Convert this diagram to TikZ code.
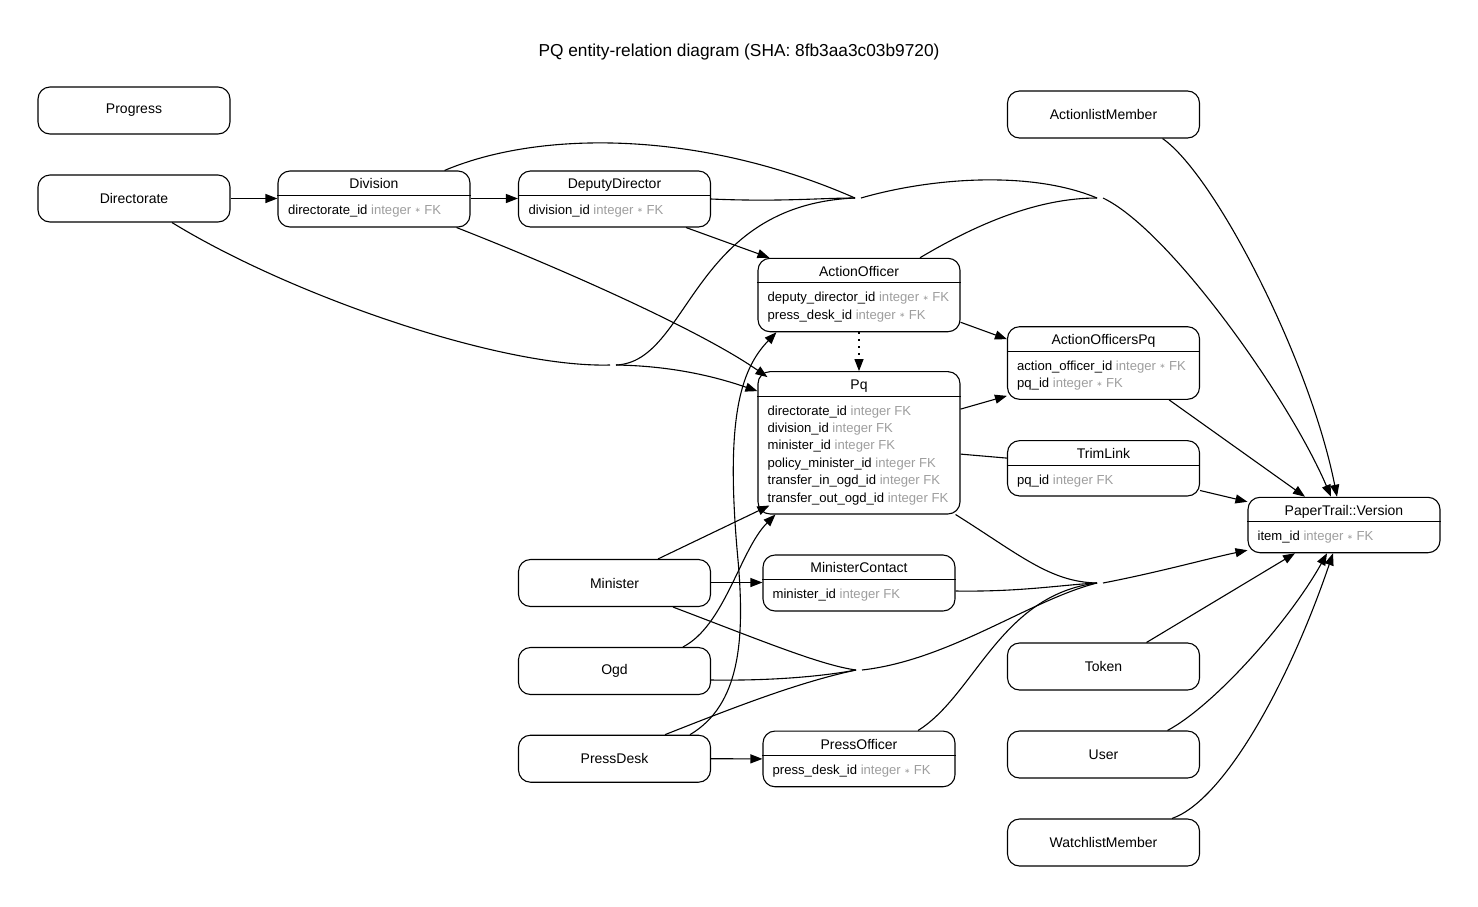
\documentclass[tikz,border=0pt]{standalone}
\usepackage{fontspec}
\setmainfont{Liberation Sans}
\newfontfamily\starfont{DejaVu Sans}
\usepackage{xcolor}
\usepackage{tikz}
\usetikzlibrary{arrows.meta}
\definecolor{typegray}{RGB}{158,158,158}
\newcommand{\notnull}{{\starfont\fontsize{7}{7}\selectfont\raisebox{1.5pt}{∗}}}
\tikzset{entity/.style={draw,line width=1.1pt,rounded corners=12pt,
    minimum width=192pt,minimum height=47pt,inner sep=0pt,
    font=\fontsize{14}{16}\selectfont},
  wide/.style={minimum width=202pt},
  heading/.style={font=\fontsize{14}{16}\selectfont,inner sep=0pt,anchor=base},
  attrs/.style={font=\fontsize{13.1}{17.4}\selectfont,align=left,
    inner sep=0pt,anchor=north west},
  divider/.style={line width=1.1pt},
  link/.style={draw,line width=1.1pt},
  fk/.style={link,-{Triangle[length=12pt,width=9pt]}},
  ownedby/.style={fk,dash pattern=on 2pt off 5pt},
  erdtitle/.style={font=\fontsize{17.3}{20}\selectfont}}

\begin{document}
\begin{tikzpicture}[x=1pt,y=-1pt]
    \path[fill=white] (0,0) rectangle (1478,906);
    \useasboundingbox (0,0) rectangle (1478,906);

    \node[erdtitle] (title) at (739,52) {PQ entity-relation diagram (SHA: 8fb3aa3c03b9720)};

    % left column
    \node[entity] (progress) at (134,110.5) {Progress};
    \node[entity] (directorate) at (134,198.5) {Directorate};

    \node[entity,minimum height=56pt] (division) at (374,199) {};
    \node[heading] (division-name) at ([yshift=-18.5pt]division.north) {Division};
    \draw[divider] ([yshift=-25pt]division.north west) -- ([yshift=-25pt]division.north east);
    \node[attrs] (division-attrs) at ([xshift=10.5pt,yshift=-34.3pt]division.north west)
        {directorate\_id \textcolor{typegray}{integer \notnull\ FK}};

    \node[entity,minimum height=56pt] (deputydirector) at (614.5,199) {};
    \node[heading] (deputydirector-name) at ([yshift=-18.5pt]deputydirector.north) {DeputyDirector};
    \draw[divider] ([yshift=-25pt]deputydirector.north west) -- ([yshift=-25pt]deputydirector.north east);
    \node[attrs] (deputydirector-attrs) at ([xshift=10.5pt,yshift=-34.3pt]deputydirector.north west)
        {division\_id \textcolor{typegray}{integer \notnull\ FK}};

    \node[entity] (minister) at (614.5,583) {Minister};
    \node[entity] (ogd) at (614.5,671) {Ogd};
    \node[entity] (pressdesk) at (614.5,758.7) {PressDesk};

    % middle column
    \node[entity,wide,minimum height=73.4pt] (actionofficer) at (859,295) {};
    \node[heading] (actionofficer-name) at ([yshift=-18.5pt]actionofficer.north) {ActionOfficer};
    \draw[divider] ([yshift=-25pt]actionofficer.north west) -- ([yshift=-25pt]actionofficer.north east);
    \node[attrs] (actionofficer-attrs) at ([xshift=10pt,yshift=-34.3pt]actionofficer.north west)
        {deputy\_director\_id \textcolor{typegray}{integer \notnull\ FK}\\
         press\_desk\_id \textcolor{typegray}{integer \notnull\ FK}};

    \node[entity,wide,minimum height=142.3pt] (pq) at (859,442.8) {};
    \node[heading] (pq-name) at ([yshift=-18.5pt]pq.north) {Pq};
    \draw[divider] ([yshift=-25pt]pq.north west) -- ([yshift=-25pt]pq.north east);
    \node[attrs] (pq-attrs) at ([xshift=10pt,yshift=-34.3pt]pq.north west)
        {directorate\_id \textcolor{typegray}{integer FK}\\
         division\_id \textcolor{typegray}{integer FK}\\
         minister\_id \textcolor{typegray}{integer FK}\\
         policy\_minister\_id \textcolor{typegray}{integer FK}\\
         transfer\_in\_ogd\_id \textcolor{typegray}{integer FK}\\
         transfer\_out\_ogd\_id \textcolor{typegray}{integer FK}};

    \node[entity,minimum height=56pt] (ministercontact) at (859,583) {};
    \node[heading] (ministercontact-name) at ([yshift=-18.5pt]ministercontact.north) {MinisterContact};
    \draw[divider] ([yshift=-25pt]ministercontact.north west) -- ([yshift=-25pt]ministercontact.north east);
    \node[attrs] (ministercontact-attrs) at ([xshift=10pt,yshift=-34.3pt]ministercontact.north west)
        {minister\_id \textcolor{typegray}{integer FK}};

    \node[entity,minimum height=55.7pt] (pressofficer) at (859,758.9) {};
    \node[heading] (pressofficer-name) at ([yshift=-18.5pt]pressofficer.north) {PressOfficer};
    \draw[divider] ([yshift=-25pt]pressofficer.north west) -- ([yshift=-25pt]pressofficer.north east);
    \node[attrs] (pressofficer-attrs) at ([xshift=10pt,yshift=-34.3pt]pressofficer.north west)
        {press\_desk\_id \textcolor{typegray}{integer \notnull\ FK}};

    % right columns
    \node[entity] (actionlistmember) at (1103.5,114.5) {ActionlistMember};

    \node[entity,minimum height=72.6pt] (actionofficerspq) at (1103.5,363) {};
    \node[heading] (actionofficerspq-name) at ([yshift=-18.5pt]actionofficerspq.north) {ActionOfficersPq};
    \draw[divider] ([yshift=-25pt]actionofficerspq.north west) -- ([yshift=-25pt]actionofficerspq.north east);
    \node[attrs] (actionofficerspq-attrs) at ([xshift=10pt,yshift=-34.3pt]actionofficerspq.north west)
        {action\_officer\_id \textcolor{typegray}{integer \notnull\ FK}\\
         pq\_id \textcolor{typegray}{integer \notnull\ FK}};

    \node[entity,minimum height=55.3pt] (trimlink) at (1103.5,468.3) {};
    \node[heading] (trimlink-name) at ([yshift=-18.5pt]trimlink.north) {TrimLink};
    \draw[divider] ([yshift=-25pt]trimlink.north west) -- ([yshift=-25pt]trimlink.north east);
    \node[attrs] (trimlink-attrs) at ([xshift=10pt,yshift=-34.3pt]trimlink.north west)
        {pq\_id \textcolor{typegray}{integer FK}};

    \node[entity] (token) at (1103.5,666.5) {Token};
    \node[entity] (user) at (1103.5,754.5) {User};
    \node[entity] (watchlistmember) at (1103.5,842.5) {WatchlistMember};

    \node[entity,minimum height=55.4pt] (papertrail) at (1344,525) {};
    \node[heading] (papertrail-name) at ([yshift=-18.5pt]papertrail.north) {PaperTrail::Version};
    \draw[divider] ([yshift=-25pt]papertrail.north west) -- ([yshift=-25pt]papertrail.north east);
    \node[attrs] (papertrail-attrs) at ([xshift=10pt,yshift=-34.3pt]papertrail.north west)
        {item\_id \textcolor{typegray}{integer \notnull\ FK}};

    % merge points of concentrated edges
    \coordinate (j1) at (613,365);
    \coordinate (j2) at (858,198);
    \coordinate (j3) at (1100,198);
    \coordinate (j4) at (1100,583);
    \coordinate (j5) at (859,670);

    % relations
    \draw[fk] (directorate.east) -- ([yshift=0.5pt]division.west);
    \draw[fk] ([yshift=0.5pt]division.east) -- ([yshift=0.5pt]deputydirector.west);
    \draw[link] ([xshift=38pt]directorate.south) .. controls (290,295) and (500,368) .. ([xshift=-3pt]j1);
    \draw[fk] ([xshift=3pt]j1) .. controls (680,366) and (725,380) .. ([yshift=-20pt]pq.north west);
    \draw[link] ([xshift=3pt]j1) .. controls (690,362) and (690,205) .. ([xshift=-3pt]j2);
    \draw[fk] ([xshift=-14pt]division.south east) .. controls (560,268) and (700,330) .. ([xshift=10pt,yshift=-6pt]pq.north west);
    \draw[link] ([xshift=-26pt]division.north east) .. controls (540,130) and (700,130) .. ([xshift=-3pt]j2);
    \draw[fk] ([xshift=-25pt]deputydirector.south east) -- ([xshift=12pt]actionofficer.north west);
    \draw[link] (deputydirector.east) .. controls (780,202) and (820,198) .. ([xshift=-3pt]j2);
    \draw[link] ([xshift=3pt]j2) .. controls (930,178) and (1030,170) .. ([xshift=-3pt]j3);
    \draw[link] ([xshift=61pt]actionofficer.north) .. controls (980,222) and (1040,198) .. ([xshift=-3pt]j3);
    \draw[fk] ([xshift=3pt]j3) .. controls (1170,230) and (1290,400) .. ([xshift=-13pt]papertrail.north);
    \draw[fk] ([xshift=-37.5pt]actionlistmember.south east) .. controls (1215,175) and (1310,360) .. ([xshift=-7pt]papertrail.north);
    \draw[fk] ([yshift=10pt]actionofficer.south east) -- ([yshift=-13pt]actionofficerspq.north west);
    \draw[ownedby] (actionofficer.south) -- (pq.north);
    \draw[fk] ([yshift=-38pt]pq.north east) -- ([yshift=4pt]actionofficerspq.south west);
    \draw[link] ([yshift=-83pt]pq.north east) -- ([yshift=-18pt]trimlink.north west);
    \draw[fk] ([xshift=-31pt]actionofficerspq.south east) -- ([xshift=-39pt]papertrail.north);
    \draw[fk] ([yshift=6pt]trimlink.south east) -- ([yshift=-5pt]papertrail.north west);
    \draw[link] ([xshift=-5pt]pq.south east) .. controls (1020,555) and (1050,582) .. ([xshift=-3pt]j4);
    \draw[fk] ([xshift=43.5pt]minister.north) -- ([xshift=12pt,yshift=9pt]pq.south west);
    \draw[fk] ([yshift=0.5pt]minister.east) -- ([yshift=0.5pt]ministercontact.west);
    \draw[link] ([xshift=58.5pt]minister.south) .. controls (760,640) and (820,665) .. ([xshift=-3pt]j5);
    \draw[fk] ([xshift=68.5pt]ogd.north) .. controls (725,625) and (740,550) .. ([xshift=18pt]pq.south west);
    \draw[link] ([yshift=-9pt]ogd.east) .. controls (780,681) and (830,675) .. ([xshift=-3pt]j5);
    \draw[link] ([xshift=50.5pt]pressdesk.north) .. controls (740,705) and (800,682) .. ([xshift=-3pt]j5);
    \draw[fk] ([xshift=75.5pt]pressdesk.north) .. controls (740,705) and (745,640) .. (738,560)
        .. controls (725,420) and (740,370) .. ([xshift=19pt]actionofficer.south west);
    \draw[fk] (pressdesk.east) -- (pressofficer.west);
    \draw[link] ([yshift=-8pt]ministercontact.east) .. controls (1020,592) and (1060,585) .. ([xshift=-3pt]j4);
    \draw[link] ([xshift=59pt]pressofficer.north) .. controls (975,695) and (1000,595) .. ([xshift=-3pt]j4);
    \draw[link] ([xshift=3pt]j5) .. controls (950,660) and (1030,600) .. ([xshift=-3pt]j4);
    \draw[fk] ([xshift=3pt]j4) .. controls (1160,572) and (1210,558) .. ([yshift=3pt]papertrail.south west);
    \draw[fk] ([xshift=43pt]token.north) -- ([xshift=-49pt]papertrail.south);
    \draw[fk] ([xshift=64pt]user.north) .. controls (1215,705) and (1290,620) .. ([xshift=-17pt]papertrail.south);
    \draw[fk] ([xshift=68.5pt]watchlistmember.north) .. controls (1225,800) and (1290,680) .. ([xshift=-11pt]papertrail.south);
\end{tikzpicture}
\end{document}
